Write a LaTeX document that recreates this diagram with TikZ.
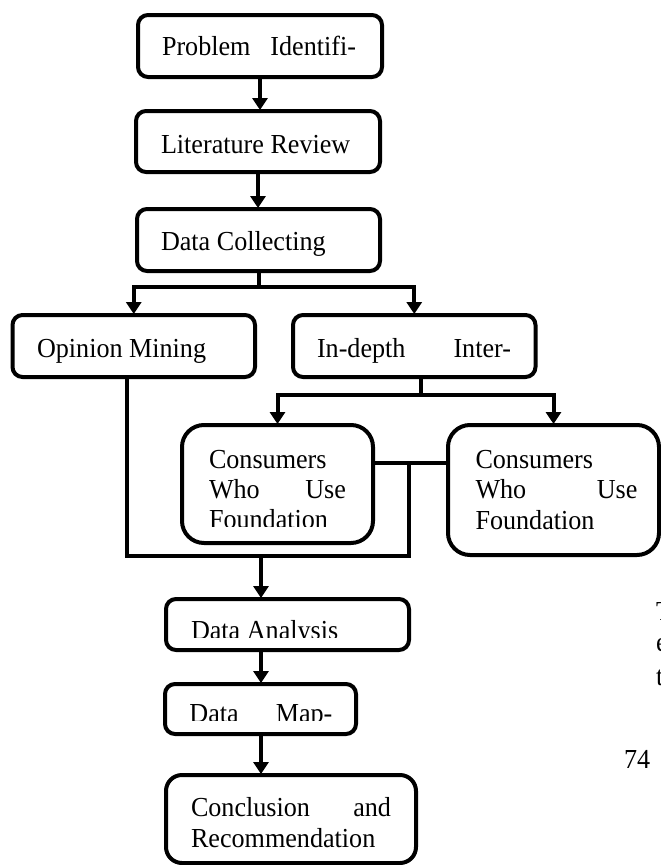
\documentclass[tikz,border=0pt]{standalone}
\usepackage{fontspec}
\setmainfont{Liberation Serif}[FakeStretch=0.95]
\usetikzlibrary{arrows.meta,calc}
\newcommand\dfont{\fontsize{27.5}{30}\selectfont}
\begin{document}
\begin{tikzpicture}[x=1pt,y=-1pt,
  box/.style={draw,line width=4pt,rounded corners=10pt,inner sep=0pt,outer sep=0pt,anchor=north west},
  txt/.style={anchor=base west,inner sep=0pt,outer sep=0pt,font=\dfont},
  conn/.style={line width=4pt,line cap=rect},
  arr/.style={line width=4pt,-{Triangle[length=12pt,width=15pt]},shorten >=1pt}]
\useasboundingbox[fill=white] (0,0) rectangle (661,865);

% boxes
\node[box,minimum width=244pt,minimum height=62pt] (b1) at (138,15) {};
\node[box,minimum width=244pt,minimum height=61pt] (b2) at (136,111) {};
\node[box,minimum width=243pt,minimum height=62pt] (b3) at (137,209) {};
\node[box,minimum width=242.5pt,minimum height=62pt] (op) at (12.5,315) {};
\node[box,minimum width=242.5pt,minimum height=62pt] (ind) at (293,315) {};
\node[box,rounded corners=22pt,minimum width=191pt,minimum height=118pt] (c1) at (182,425) {};
\node[box,rounded corners=22pt,minimum width=211pt,minimum height=130pt] (c2) at (448,425) {};
\node[box,minimum width=243pt,minimum height=51pt] (da) at (166,599) {};
\node[box,minimum width=191pt,minimum height=50pt] (dm) at (165,684) {};
\node[box,rounded corners=16pt,minimum width=250pt,minimum height=88pt] (cr) at (166,775) {};

% junction points
\coordinate (j1) at (259,287);
\coordinate (j2) at (421,395);
\coordinate (j3) at (409,463);
\coordinate (j4) at (409,556);
\coordinate (j5) at (126.5,556);
\coordinate (j6) at (261,556);

% connectors
\draw[arr] (b1.south) -- (b1.south |- b2.north);
\draw[arr] (b2.south) -- (b2.south |- b3.north);
\draw[conn] (b3.south) -- (b3.south |- j1);
\draw[arr] (j1) -| (op.north);
\draw[arr] (j1) -| (ind.north);
\draw[conn] (j2 |- ind.south) -- (j2);
\draw[arr] (j2) -| (c1.north);
\draw[arr] (j2) -| (c2.north);
\draw[conn] (c1.east |- j3) -- (c2.west |- j3);
\draw[conn] (j3) -- (j4) -- (j5) -- (j5 |- op.south);
\draw[arr] (j6) -- (j6 |- da.north);
\draw[arr] (j6 |- da.south) -- (j6 |- dm.north);
\draw[arr] (j6 |- dm.south) -- (j6 |- cr.north);

% texts
\node[txt] (t1) at (162,55) {\makebox[194pt][s]{Problem Identifi-}};
\node[txt] (t2) at (161,153) {Literature Review};
\node[txt] (t3) at (161,250) {Data Collecting};
\node[txt] (t4) at (37,357) {Opinion Mining};
\node[txt] (t5) at (317,357) {\makebox[194pt][s]{In-depth Inter-}};
\node[txt] (t6a) at (209,468) {Consumers};
\node[txt] (t6b) at (209,498) {\makebox[137pt][s]{Who Use}};
\begin{scope}
  \clip (190,505) rectangle (370,526);
  \node[txt] (t6c) at (209,528) {Foundation};
\end{scope}
\node[txt] (t7a) at (475.5,468) {Consumers};
\node[txt] (t7b) at (475.5,498) {\makebox[162pt][s]{Who Use}};
\node[txt] (t7c) at (475.5,529) {Foundation};
\begin{scope}
  \clip (170,605) rectangle (405,637);
  \node[txt] (t8) at (191,639) {Data Analysis};
\end{scope}
\begin{scope}
  \clip (170,690) rectangle (352,720.7);
  \node[txt] (t9) at (189.4,722) {\makebox[143pt][s]{Data Map-}};
\end{scope}
\node[txt] (t10a) at (191,816) {\makebox[200pt][s]{Conclusion and}};
\node[txt] (t10b) at (191,847) {Recommendation};

% page fragments (cut at the page edge, as in the reference)
\node[txt] (p74) at (624,768) {74};
\node[txt] (f1) at (656,620) {T};
\node[txt] (f2) at (656,651) {e};
\node[txt] (f3) at (656,685) {t};
\end{tikzpicture}
\end{document}
